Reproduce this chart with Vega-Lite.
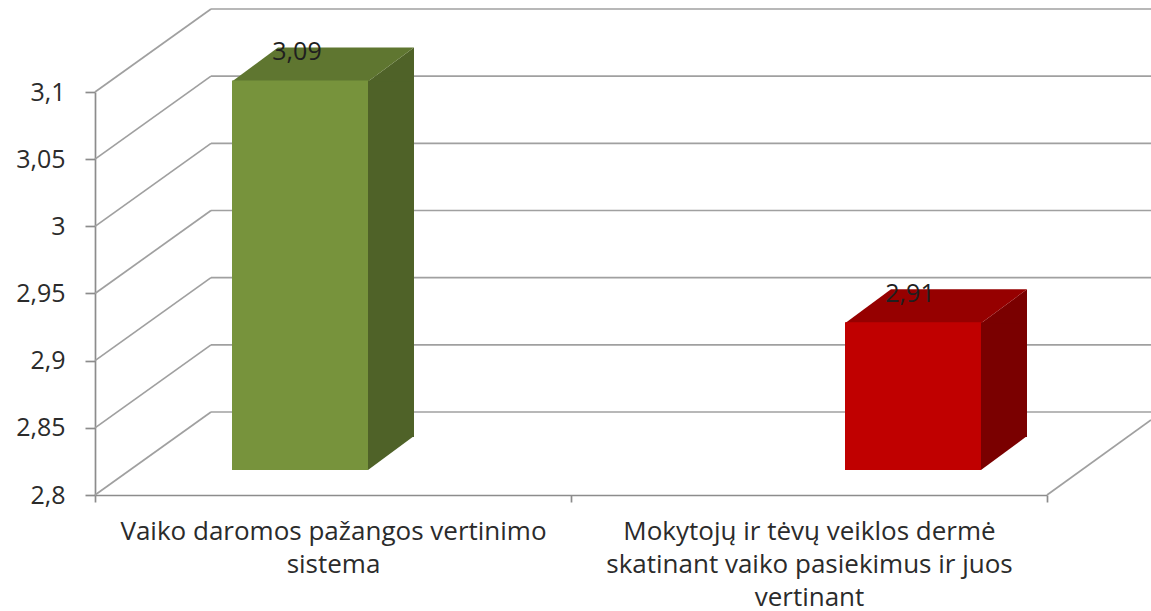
{
  "$schema": "https://vega.github.io/schema/vega-lite/v6.json",
  "width": 952,
  "height": 403,
  "autosize": {"type": "none"},
  "padding": {"left": 95, "top": 92, "right": 104, "bottom": 116},
  "background": "white",
  "config": {
    "view": {"stroke": null},
    "font": "Open Sans",
    "locale": {"number": {"decimal": ",", "thousands": " ", "grouping": [3], "currency": ["", " €"]}}
  },
  "datasets": {
    "stulpeliai": [
      {"kategorija": "Vaiko daromos pažangos vertinimo sistema", "reiksme": 3.09},
      {"kategorija": "Mokytojų ir tėvų veiklos dermė skatinant vaiko pasiekimus ir juos vertinant", "reiksme": 2.91}
    ],
    "ticks": [{"v": 2.8}, {"v": 2.85}, {"v": 2.9}, {"v": 2.95}, {"v": 3.0}, {"v": 3.05}, {"v": 3.1}]
  },
  "resolve": {"scale": {"x": "independent", "color": "independent"}},
  "layer": [
    {
      "data": {"name": "ticks"},
      "mark": {"type": "rule", "color": "#a0a0a0", "strokeWidth": 1.7, "yOffset": -83},
      "encoding": {
        "x": {"value": 116},
        "x2": {"value": 1056},
        "y": {
          "field": "v", "type": "quantitative",
          "scale": {"domain": [2.8, 3.1], "nice": false, "zero": false},
          "axis": {
            "title": null,
            "values": [2.8, 2.85, 2.9, 2.95, 3, 3.05, 3.1],
            "labelExpr": "replace(format(datum.value, '.2~f'), '.', ',')",
            "grid": false,
            "domainColor": "#8c8c8c", "domainWidth": 1.7,
            "tickColor": "#8c8c8c", "tickWidth": 1.7, "tickSize": 10,
            "labelFont": "Open Sans", "labelFontSize": 25, "labelColor": "#2b2b2b", "labelPadding": 20
          }
        }
      }
    },
    {
      "data": {"name": "ticks"},
      "mark": {"type": "rule", "color": "#a0a0a0", "strokeWidth": 1.7, "y2Offset": -83},
      "encoding": {
        "x": {"value": 0},
        "x2": {"value": 116},
        "y": {"field": "v", "type": "quantitative"},
        "y2": {"field": "v"}
      }
    },
    {
      "data": {"name": "ticks"},
      "transform": [{"filter": "datum.v == 2.8"}],
      "mark": {"type": "rule", "color": "#a0a0a0", "strokeWidth": 1.7, "y2Offset": -75},
      "encoding": {
        "x": {"value": 952},
        "x2": {"value": 1056},
        "y": {"field": "v", "type": "quantitative"},
        "y2": {"field": "v"}
      }
    },
    {
      "data": {"name": "stulpeliai"},
      "mark": {"type": "bar", "opacity": 0},
      "encoding": {
        "x": {
          "field": "kategorija", "type": "nominal", "sort": null,
          "scale": {"type": "band", "paddingInner": 0, "paddingOuter": 0},
          "axis": {
            "title": null,
            "domainColor": "#8c8c8c", "domainWidth": 1.7,
            "tickColor": "#8c8c8c", "tickWidth": 1.7, "tickSize": 7, "tickBand": "extent",
            "labelAngle": 0, "labelFont": "Open Sans", "labelFontSize": 26, "labelLineHeight": 33,
            "labelColor": "#2b2b2b", "labelPadding": 16, "labelLimit": 0, "labelOverlap": false,
            "labelExpr": "datum.label == 'Vaiko daromos pažangos vertinimo sistema' ? ['Vaiko daromos pažangos vertinimo', 'sistema'] : datum.label == 'Mokytojų ir tėvų veiklos dermė skatinant vaiko pasiekimus ir juos vertinant' ? ['Mokytojų ir tėvų veiklos dermė', 'skatinant vaiko pasiekimus ir juos', 'vertinant'] : ''"
          }
        }
      }
    },
    {
      "data": {"name": "stulpeliai"},
      "mark": {"type": "bar", "width": 47, "xOffset": 90.5, "yOffset": -25, "y2Offset": -58},
      "encoding": {
        "x": {"field": "kategorija", "type": "nominal", "sort": null, "scale": {"type": "band", "range": [-101.5, 1124.5], "paddingInner": 0, "paddingOuter": 0}, "axis": null},
        "y": {"field": "reiksme", "type": "quantitative"},
        "y2": {"datum": 2.8},
        "color": {"field": "kategorija", "type": "nominal", "scale": {"domain": ["Vaiko daromos pažangos vertinimo sistema", "Mokytojų ir tėvų veiklos dermė skatinant vaiko pasiekimus ir juos vertinant"], "range": ["#4f6228", "#7a0000"]}, "legend": null}
      }
    },
    {
      "data": {"name": "stulpeliai"},
      "mark": {"type": "point", "shape": "M68,1L114,-33L114,1Z", "size": 4, "filled": true, "opacity": 1, "strokeWidth": 0, "yOffset": -25},
      "encoding": {
        "x": {"field": "kategorija", "type": "nominal", "sort": null, "scale": {"type": "band", "range": [-101.5, 1124.5], "paddingInner": 0, "paddingOuter": 0}, "axis": null},
        "y": {"field": "reiksme", "type": "quantitative"},
        "color": {"field": "kategorija", "type": "nominal", "scale": {"domain": ["Vaiko daromos pažangos vertinimo sistema", "Mokytojų ir tėvų veiklos dermė skatinant vaiko pasiekimus ir juos vertinant"], "range": ["#4f6228", "#7a0000"]}, "legend": null}
      }
    },
    {
      "data": {"name": "stulpeliai"},
      "mark": {"type": "point", "shape": "M68,-34L68,0L114,-34Z", "size": 4, "filled": true, "opacity": 1, "strokeWidth": 0, "yOffset": -25},
      "encoding": {
        "x": {"field": "kategorija", "type": "nominal", "sort": null, "scale": {"type": "band", "range": [-101.5, 1124.5], "paddingInner": 0, "paddingOuter": 0}, "axis": null},
        "y": {"datum": 2.8},
        "color": {"field": "kategorija", "type": "nominal", "scale": {"domain": ["Vaiko daromos pažangos vertinimo sistema", "Mokytojų ir tėvų veiklos dermė skatinant vaiko pasiekimus ir juos vertinant"], "range": ["#4f6228", "#7a0000"]}, "legend": null}
      }
    },
    {
      "data": {"name": "stulpeliai"},
      "mark": {"type": "point", "shape": "M-68,1L68,1L114,-33L-22,-33Z", "size": 4, "filled": true, "opacity": 1, "strokeWidth": 0, "yOffset": -25},
      "encoding": {
        "x": {"field": "kategorija", "type": "nominal", "sort": null, "scale": {"type": "band", "range": [-101.5, 1124.5], "paddingInner": 0, "paddingOuter": 0}, "axis": null},
        "y": {"field": "reiksme", "type": "quantitative"},
        "color": {"field": "kategorija", "type": "nominal", "scale": {"domain": ["Vaiko daromos pažangos vertinimo sistema", "Mokytojų ir tėvų veiklos dermė skatinant vaiko pasiekimus ir juos vertinant"], "range": ["#5f7630", "#960000"]}, "legend": null}
      }
    },
    {
      "data": {"name": "stulpeliai"},
      "mark": {"type": "bar", "width": 136, "yOffset": -25, "y2Offset": -25},
      "encoding": {
        "x": {"field": "kategorija", "type": "nominal", "sort": null, "scale": {"type": "band", "range": [-101.5, 1124.5], "paddingInner": 0, "paddingOuter": 0}, "axis": null},
        "y": {"field": "reiksme", "type": "quantitative"},
        "y2": {"datum": 2.8},
        "color": {"field": "kategorija", "type": "nominal", "scale": {"domain": ["Vaiko daromos pažangos vertinimo sistema", "Mokytojų ir tėvų veiklos dermė skatinant vaiko pasiekimus ir juos vertinant"], "range": ["#77933c", "#c00000"]}, "legend": null}
      }
    },
    {
      "data": {"name": "stulpeliai"},
      "mark": {"type": "text", "font": "Open Sans", "fontSize": 25, "color": "#1f1f1f", "baseline": "middle", "dx": -3, "yOffset": -53},
      "encoding": {
        "x": {"field": "kategorija", "type": "nominal", "sort": null, "scale": {"type": "band", "range": [-101.5, 1124.5], "paddingInner": 0, "paddingOuter": 0}, "axis": null},
        "y": {"field": "reiksme", "type": "quantitative"},
        "text": {"field": "reiksme", "type": "quantitative", "format": ".2f"}
      }
    }
  ]
}
